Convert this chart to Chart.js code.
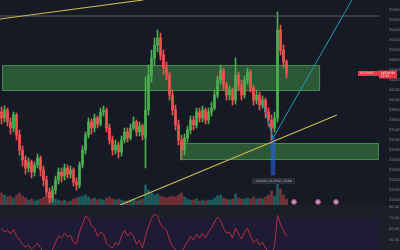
<!DOCTYPE html>
<html><head><meta charset="utf-8">
<script src="https://cdn.jsdelivr.net/npm/chart.js@4"></script>
<style>
html,body{margin:0;padding:0;background:#161a25;width:400px;height:250px;overflow:hidden}
#mainWrap{position:absolute;left:0;top:0;width:400px;height:205px}
#rsiWrap{position:absolute;left:0;top:205px;width:400px;height:45px;background:#1b1f2a}
</style></head><body>
<div id="mainWrap"><canvas id="main"></canvas></div>
<div id="rsiWrap"><canvas id="rsi"></canvas></div>
<script>
// ---- data ----
const candleOpen = [33760,33640,33800,33560,33440,33700,33300,33000,32800,32640,
 32760,32560,32700,32840,32600,32400,32160,32040,32200,32400,
 32560,32480,32640,32520,32600,32360,32300,32700,33000,33300,
 33560,33440,33640,33520,33760,33800,33440,33200,33000,33100,
 32960,33200,33360,33240,33440,33560,33360,33480,33240,33800,
 34500,34840,35100,35240,34900,34640,34500,34100,33800,33500,
 33200,33000,33240,33400,33600,33500,33760,33640,33800,33600,
 33760,33840,34100,34400,34600,34300,34100,34200,34000,34500,
 34300,34100,34400,34560,34240,34000,34100,33900,34000,33760,
 33600,33440,33640,35400,35000,34760];
const candleClose = [33640,33800,33560,33440,33700,33300,33000,32800,32640,32760,
 32560,32700,32840,32600,32400,32160,32040,32200,32400,32560,
 32480,32640,32520,32600,32360,32300,32700,33000,33300,33560,
 33440,33640,33520,33760,33800,33440,33200,33000,33100,32960,
 33200,33360,33240,33440,33560,33360,33480,33300,33800,34500,
 34840,35100,35240,34900,34640,34500,34100,33800,33500,33200,
 33000,33240,33400,33600,33500,33760,33640,33800,33600,33760,
 33840,34100,34400,34600,34300,34100,34200,34000,34500,34300,
 34100,34400,34560,34240,34000,34100,33900,34000,33760,33600,
 33440,33640,35400,35000,34760,34520];
const candleHigh = [33860,33880,33840,33640,33760,33740,33400,33080,32880,32840,
 32800,32760,32920,32880,32680,32480,32240,32280,32480,32640,
 32640,32720,32700,32680,32640,32440,32760,33080,33360,33640,
 33620,33720,33680,33840,33880,33840,33520,33280,33200,33160,
 33280,33440,33440,33520,33660,33600,33560,33520,34460,34700,
 35000,35240,35400,35340,35000,34760,34560,34200,33900,33600,
 33300,33320,33480,33680,33680,33840,33840,33880,33840,33840,
 33960,34200,34480,34700,34640,34360,34280,34240,34840,34560,
 34400,34480,34640,34600,34300,34200,34160,34080,34040,33840,
 33700,33760,35760,35500,35100,34800];
const candleLow = [33520,33560,33480,33320,33360,33200,32900,32680,32520,32560,
 32440,32480,32640,32480,32280,32080,31940,31960,32120,32320,
 32360,32400,32440,32440,32280,32200,32240,32640,32920,33240,
 33320,33360,33440,33480,33680,33360,33120,32900,32920,32840,
 32880,33140,33160,33200,33400,33280,33280,33200,32640,33700,
 34360,34700,34960,34800,34520,34400,34000,33700,33400,33100,
 32800,32900,33160,33320,33400,33440,33560,33560,33520,33520,
 33680,33800,34040,34320,34200,34000,34000,33900,33920,34200,
 34000,34040,34320,34160,33900,33920,33800,33840,33640,33480,
 33200,33360,33560,34900,34640,34440];
const volume = [1200,1000,800,900,700,1000,1200,900,700,500,
 600,400,500,600,800,900,1000,800,600,500,
 400,500,300,400,600,700,800,900,1000,800,
 600,700,500,600,500,700,800,600,500,600,
 500,400,400,500,600,400,500,600,2000,1500,
 1200,1000,1100,900,800,700,800,900,800,1000,
 1200,800,600,500,500,600,400,500,400,500,
 500,700,900,1000,700,600,500,600,1100,700,
 600,600,700,600,800,600,700,600,800,1000,
 1400,900,2200,1600,1000,600];
const rsiValues = [60.9,57.3,59.1,55.5,60,53.6,50,46.4,43.6,45.5,
 41.8,44.5,47.3,42.7,39,35.5,33.6,41,48,53.6,
 52,56.4,52.7,54.5,48,46.4,57.3,64.5,71.8,70,
 62.7,60.9,53.6,57.3,55.5,47.3,44.5,42.7,48,45.5,
 53.6,59.1,53.6,57.3,53.6,46.4,50,42.7,53.6,62.7,
 70,73.6,71.8,64.5,60.9,59.1,50,44.5,40.9,39,
 37.3,44.5,48,53.6,50,55.5,51.8,56.4,51.8,57.3,
 60.9,66.4,70.9,68.2,60.9,56.4,57.3,51.8,60.9,55.5,
 50.9,57.3,60.9,53.6,48,50.9,45.5,48,42.7,39,
 36.4,44.5,72.7,64.5,59.1,53.6];

// drawings (bar index, price)
const levelPrice = 35680;
const zoneStart = [0.2, 59.5];
const zoneEnd = [106.2, 125.8];
const zoneHigh = [34700, 33140];
const zoneLow = [34180, 32800];
const upperTrend = [{x:-0.5, y:35620}, {x:47.2, y:36000}];
const lowerTrend = [{x:39.5, y:31900}, {x:111.8, y:33700}];
const cyanLeg1 = [{x:86.8, y:34000}, {x:90.5, y:33240}];
const cyanLeg2 = [{x:90.5, y:33240}, {x:116.8, y:36000}];
const measureIdx = 90.5, measureFrom = 33240, measureTo = 32500;
const eventIdx = [97.5, 105.5, 111.5];
const eventPrice = 31960;

// ---- chart setup ----
const X_MIN = -0.5, X_MAX = 125.83;
const UP = '#4caf50', DN = '#ef5350';
const isUp = i => candleClose[i] >= candleOpen[i];
const AXIS_FONT = {size: 3.6, family: 'DejaVu Sans'};

const zonePlugin = {
  id: 'zones',
  beforeDatasetsDraw(chart) {
    const {ctx, scales: {x, y}} = chart;
    ctx.save();
    zoneLow.forEach((lo, k) => {
      const x0 = x.getPixelForValue(zoneStart[k]), x1 = x.getPixelForValue(zoneEnd[k]);
      const y0 = y.getPixelForValue(zoneHigh[k]), y1 = y.getPixelForValue(lo);
      ctx.fillStyle = 'rgba(76,175,80,0.42)';
      ctx.fillRect(x0, y0, x1 - x0, y1 - y0);
      ctx.strokeStyle = 'rgba(100,200,110,0.45)';
      ctx.lineWidth = 1;
      ctx.strokeRect(x0 + 0.5, y0 + 0.5, x1 - x0 - 1, y1 - y0 - 1);
    });
    ctx.restore();
  }
};

const labelPlugin = {
  id: 'labels',
  afterDraw(chart) {
    const {ctx, chartArea: a, scales: {x, y}} = chart;
    ctx.save();
    const last = candleClose[candleClose.length - 1];
    const py = y.getPixelForValue(last);
    ctx.fillStyle = '#f23645';
    ctx.fillRect(a.right - 21, py - 3, 21, 5);
    ctx.fillRect(a.right, py - 3.5, 18, 8);
    ctx.font = '3px DejaVu Sans';
    ctx.textBaseline = 'middle';
    ctx.fillStyle = '#ffd0d4';
    ctx.fillText('BTCUSDT', a.right - 19, py - 0.5);
    ctx.fillStyle = '#ffffff';
    ctx.fillText(last.toFixed(2), a.right + 1.5, py - 1.2);
    ctx.fillText('12:34', a.right + 1.5, py + 2.2);
    // measurement label
    const diff = measureTo - measureFrom;
    const pct = diff / measureFrom * 100;
    const txt = diff.toFixed(2) + ' (' + pct.toFixed(2) + '%) ' + Math.round(diff * 10);
    const mx = x.getPixelForValue(measureIdx), my = y.getPixelForValue(measureTo) + 6;
    ctx.fillStyle = '#2a2e39';
    ctx.fillRect(mx - 21, my - 3, 43, 6);
    ctx.fillStyle = '#b2b5be';
    ctx.font = '3.2px DejaVu Sans';
    ctx.textAlign = 'center';
    ctx.fillText(txt, mx, my);
    ctx.restore();
  }
};

const lineDs = (data, color, w, order) => ({
  type: 'line', data, borderColor: color, borderWidth: w, pointRadius: 0,
  fill: false, tension: 0, yAxisID: 'y', order
});

new Chart(document.getElementById('main'), {
  type: 'bar',
  data: {
    datasets: [
      lineDs(upperTrend, '#c9b84a', 1.2, 0),
      lineDs(lowerTrend, '#c9b84a', 1.2, 0),
      lineDs(cyanLeg1, '#1f9cb3', 1, 0),
      lineDs(cyanLeg2, '#1f9cb3', 1, 0),
      lineDs([{x: X_MIN, y: levelPrice}, {x: X_MAX, y: levelPrice}], '#5d606b', 1, 1),
      {
        type: 'line', data: eventIdx.map(v => ({x: v, y: eventPrice})), showLine: false,
        pointRadius: 2.4, pointStyle: 'circle', pointBackgroundColor: '#8ea6e6',
        pointBorderColor: '#e0404f', pointBorderWidth: 1, yAxisID: 'y', order: 0
      },
      {
        label: 'body', data: candleOpen.map((o, i) => ({x: i, y: [o, candleClose[i]]})),
        backgroundColor: c => isUp(c.dataIndex) ? UP : DN, barThickness: 2, minBarLength: 1,
        grouped: false, yAxisID: 'y', order: 2
      },
      {
        label: 'wick', data: candleHigh.map((h, i) => ({x: i, y: [candleLow[i], h]})),
        backgroundColor: c => isUp(c.dataIndex) ? UP : DN, barThickness: 1,
        grouped: false, yAxisID: 'y', order: 3
      },
      {
        label: 'measure', data: [{x: measureIdx, y: [measureTo, measureFrom]}],
        backgroundColor: 'rgba(41,98,255,0.55)', barThickness: 4, grouped: false,
        yAxisID: 'y', order: 4
      },
      {
        label: 'volume', data: volume.map((v, i) => ({x: i, y: v})),
        backgroundColor: c => isUp(c.dataIndex) ? 'rgba(38,166,154,0.5)' : 'rgba(239,83,80,0.45)',
        barThickness: 2, grouped: false, yAxisID: 'yv', order: 5
      }
    ]
  },
  options: {
    responsive: true, maintainAspectRatio: false, animation: false, events: [],
    layout: {padding: 0, autoPadding: false},
    plugins: {legend: {display: false}, tooltip: {enabled: false}},
    scales: {
      x: {type: 'linear', min: X_MIN, max: X_MAX, offset: false, display: false},
      y: {
        position: 'right', min: 31900, max: 36000,
        grid: {display: false}, border: {display: false},
        ticks: {stepSize: 200, includeBounds: false, color: '#7d808a', font: AXIS_FONT, padding: 2,
          autoSkip: false, callback: v => v >= 36000 ? '' : v.toFixed(2)},
        afterFit(s) { s.width = 21; s.paddingTop = 0; s.paddingBottom = 0; }
      },
      yv: {display: false, min: 0, max: 20500}
    }
  },
  plugins: [zonePlugin, labelPlugin]
});

const rsiBand = {
  id: 'rsiBand',
  beforeDatasetsDraw(chart) {
    const {ctx, chartArea: a, scales: {y}} = chart;
    const top = y.getPixelForValue(70);
    ctx.save();
    ctx.fillStyle = '#1f1b35';
    ctx.fillRect(a.left, top, a.right - a.left, a.bottom - top);
    ctx.restore();
  }
};

new Chart(document.getElementById('rsi'), {
  type: 'line',
  data: {datasets: [{data: rsiValues.map((v, i) => ({x: i, y: v})), borderColor: '#b3303f',
    borderWidth: 1, pointRadius: 0, tension: 0, fill: false}]},
  options: {
    responsive: true, maintainAspectRatio: false, animation: false, events: [],
    layout: {padding: 0, autoPadding: false},
    plugins: {legend: {display: false}, tooltip: {enabled: false}},
    scales: {
      x: {type: 'linear', min: X_MIN, max: X_MAX, display: false},
      y: {
        position: 'right', min: 41, max: 82,
        grid: {display: false}, border: {display: false},
        ticks: {stepSize: 10, includeBounds: false, color: '#7d808a', font: AXIS_FONT, padding: 2,
          callback: v => v.toFixed(2)},
        afterFit(s) { s.width = 21; s.paddingTop = 0; s.paddingBottom = 0; }
      }
    }
  },
  plugins: [rsiBand]
});
</script>
</body></html>
